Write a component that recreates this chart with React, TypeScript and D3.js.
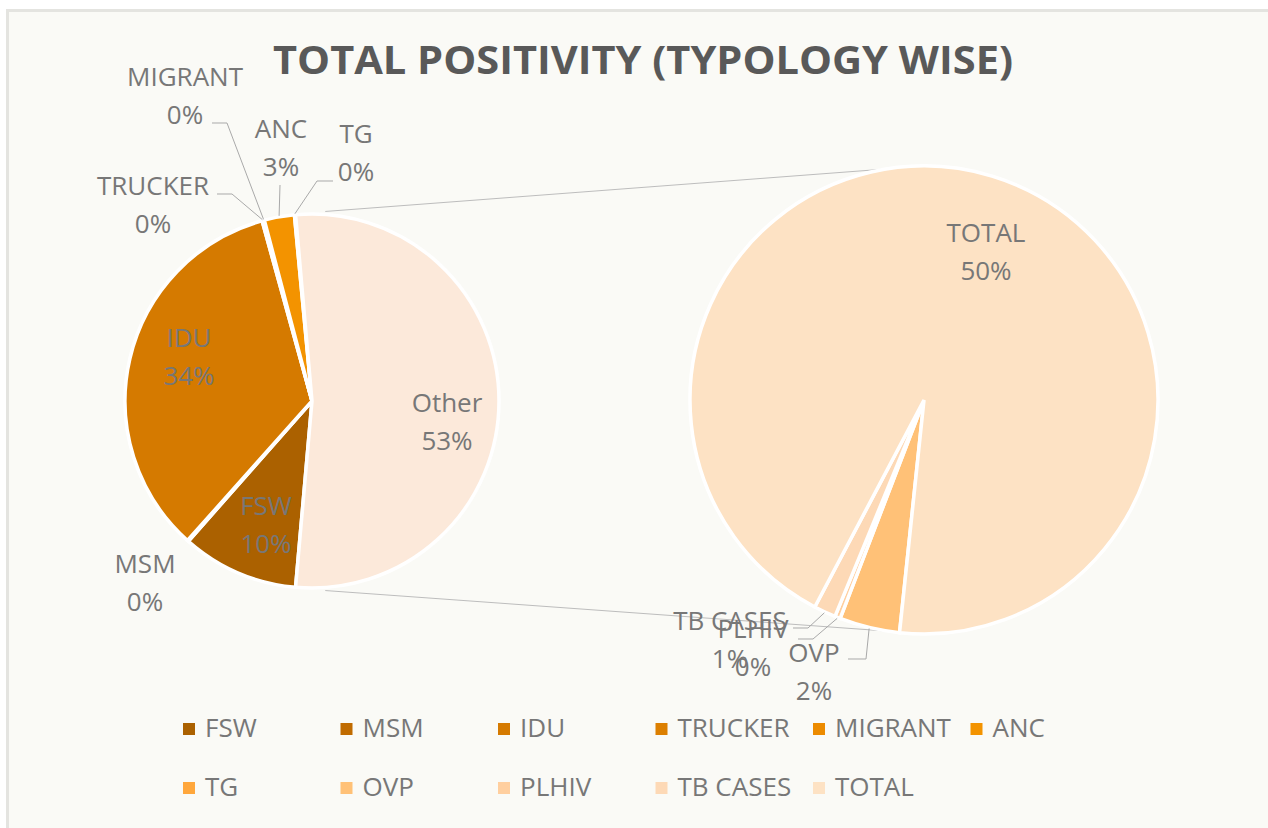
import React from 'react';
import * as d3 from 'd3';

// typologies, in sheet order; the last four go into the second pie
const categories = ['FSW', 'MSM', 'IDU', 'TRUCKER', 'MIGRANT', 'ANC', 'TG', 'OVP', 'PLHIV', 'TB CASES', 'TOTAL'];
const values = [10.1, 0.1, 34.1, 0.1, 0.1, 2.6, 0.1, 2.2, 0.2, 0.8, 49.6];
const sliceColors = [
  '#AB6100', '#C06B00', '#D57A00', '#DC7F00', '#EC8B00', '#F39300',
  '#FFA73C', '#FFC177', '#FFCF9F', '#FDD9B6', '#FDE2C4',
];
const secondaryCount = 4;
const otherName = 'Other';
const otherColor = '#FCE9DA';

const W = 1268;
const H = 828;
const textColor = '#777777';
const lineColor = '#A9A9A9';
const font = '"Open Sans", "Noto Sans", sans-serif';
const fs = 26;

const mainC = { x: 312, y: 401 };
const mainR = 187;
const sideC = { x: 924, y: 400 };
const sideR = 234;
const rad = (deg: number) => (deg * Math.PI) / 180;
const sideStart = rad(186);

// label anchors: [x, baseline of first line]
const labelPos: Record<string, [number, number]> = {
  FSW: [266, 515],
  MSM: [145, 573],
  IDU: [189, 347],
  TRUCKER: [153, 195],
  MIGRANT: [185, 86],
  ANC: [281, 138],
  TG: [356, 143],
  Other: [447, 412],
  TOTAL: [986, 242],
  'TB CASES': [730, 630],
  PLHIV: [753, 638],
  OVP: [814, 662],
};
// leader lines: points on the label side, the slice end is computed
const leaders: Record<string, [number, number][]> = {
  MIGRANT: [[212, 123], [227, 123]],
  TRUCKER: [[217, 194], [232, 194]],
  ANC: [[280, 185]],
  TG: [[333, 181], [317, 181]],
  'TB CASES': [[793, 628], [808, 628]],
  PLHIV: [[798, 639], [813, 639]],
  OVP: [[848, 659], [866, 659]],
};

type Row = { name: string; value: number; color: string };

const pt = (c: { x: number; y: number }, r: number, a: number): [number, number] => [
  c.x + r * Math.sin(a),
  c.y - r * Math.cos(a),
];

export default function App() {
  const rows: Row[] = categories.map((name, i) => ({ name, value: values[i], color: sliceColors[i] }));
  const total = d3.sum(values);
  const primary = rows.slice(0, rows.length - secondaryCount);
  const secondary = rows.slice(rows.length - secondaryCount);
  const otherValue = d3.sum(secondary, d => d.value);
  const mainRows: Row[] = [...primary, { name: otherName, value: otherValue, color: otherColor }];

  const otherFrac = otherValue / total;
  const mainStart = Math.PI / 2 + otherFrac * Math.PI;

  const mainPie = d3.pie<Row>().value(d => d.value).sort(null)
    .startAngle(mainStart).endAngle(mainStart + 2 * Math.PI);
  const sidePie = d3.pie<Row>().value(d => d.value).sort(null)
    .startAngle(sideStart).endAngle(sideStart + 2 * Math.PI);

  const mainArc = d3.arc<d3.PieArcDatum<Row>>().innerRadius(0).outerRadius(mainR);
  const sideArc = d3.arc<d3.PieArcDatum<Row>>().innerRadius(0).outerRadius(sideR);

  const mainSlices = mainPie(mainRows);
  const sideSlices = sidePie(secondary);

  const pct = (v: number) => `${Math.round((v / total) * 100)}%`;

  // connector lines between the two pies
  const connectors = [
    [pt(mainC, mainR + 3, rad(4)), pt(sideC, sideR, rad(-9))],
    [pt(mainC, mainR + 3, rad(176)), pt(sideC, sideR, rad(189))],
  ];

  const labelFor = (d: d3.PieArcDatum<Row>, c: { x: number; y: number }, r: number) => {
    const pos = labelPos[d.data.name];
    if (!pos) return null;
    const mid = (d.startAngle + d.endAngle) / 2;
    const lead = leaders[d.data.name];
    let path = null;
    if (lead) {
      const end = pt(c, r + 1, mid);
      const line = d3.line()([...lead, end]);
      path = <path d={line || ''} fill="none" stroke={lineColor} strokeWidth={1} />;
    }
    return (
      <g key={`lbl-${d.data.name}`}>
        {path}
        <text x={pos[0]} y={pos[1]} textAnchor="middle" fill={textColor} fontSize={fs} fontFamily={font}>
          {d.data.name}
        </text>
        <text x={pos[0]} y={pos[1] + 38} textAnchor="middle" fill={textColor} fontSize={fs} fontFamily={font}>
          {pct(d.data.value)}
        </text>
      </g>
    );
  };

  const perRow = 6;
  const legendX = d3.scaleLinear().domain([0, 1]).range([183, 340.5]);

  return (
    <svg width={W} height={H} style={{ position: 'absolute', left: 0, top: 0 }}>
      <rect x={0} y={0} width={W} height={H} fill="#ffffff" />
      <rect x={7.5} y={10.5} width={W + 20} height={H + 20} fill="#FAFAF6" stroke="#E4E4E0" strokeWidth={3} />

      <text x={643} y={74} textAnchor="middle" fill="#595959" fontSize={39} fontWeight="bold"
        fontFamily={font} textLength={740} lengthAdjust="spacingAndGlyphs">
        TOTAL POSITIVITY (TYPOLOGY WISE)
      </text>

      {connectors.map((c, i) => (
        <line key={`con-${i}`} x1={c[0][0]} y1={c[0][1]} x2={c[1][0]} y2={c[1][1]}
          stroke="#BDBDBD" strokeWidth={1} />
      ))}

      <g transform={`translate(${mainC.x},${mainC.y})`}>
        {mainSlices.map(d => (
          <path key={d.data.name} d={mainArc(d) || ''} fill={d.data.color} stroke="#ffffff" strokeWidth={3.5} />
        ))}
      </g>
      <g transform={`translate(${sideC.x},${sideC.y})`}>
        {sideSlices.map(d => (
          <path key={d.data.name} d={sideArc(d) || ''} fill={d.data.color} stroke="#ffffff" strokeWidth={3.5} />
        ))}
      </g>

      {mainSlices.map(d => labelFor(d, mainC, mainR))}
      {sideSlices.map(d => labelFor(d, sideC, sideR))}

      {rows.map((d, i) => {
        const x = legendX(i % perRow);
        const y = 723 + Math.floor(i / perRow) * 59;
        return (
          <g key={`leg-${d.name}`}>
            <rect x={x} y={y} width={12} height={12} fill={d.color} />
            <text x={x + 22} y={y + 14} fill={textColor} fontSize={fs} fontFamily={font}>
              {d.name}
            </text>
          </g>
        );
      })}
    </svg>
  );
}
